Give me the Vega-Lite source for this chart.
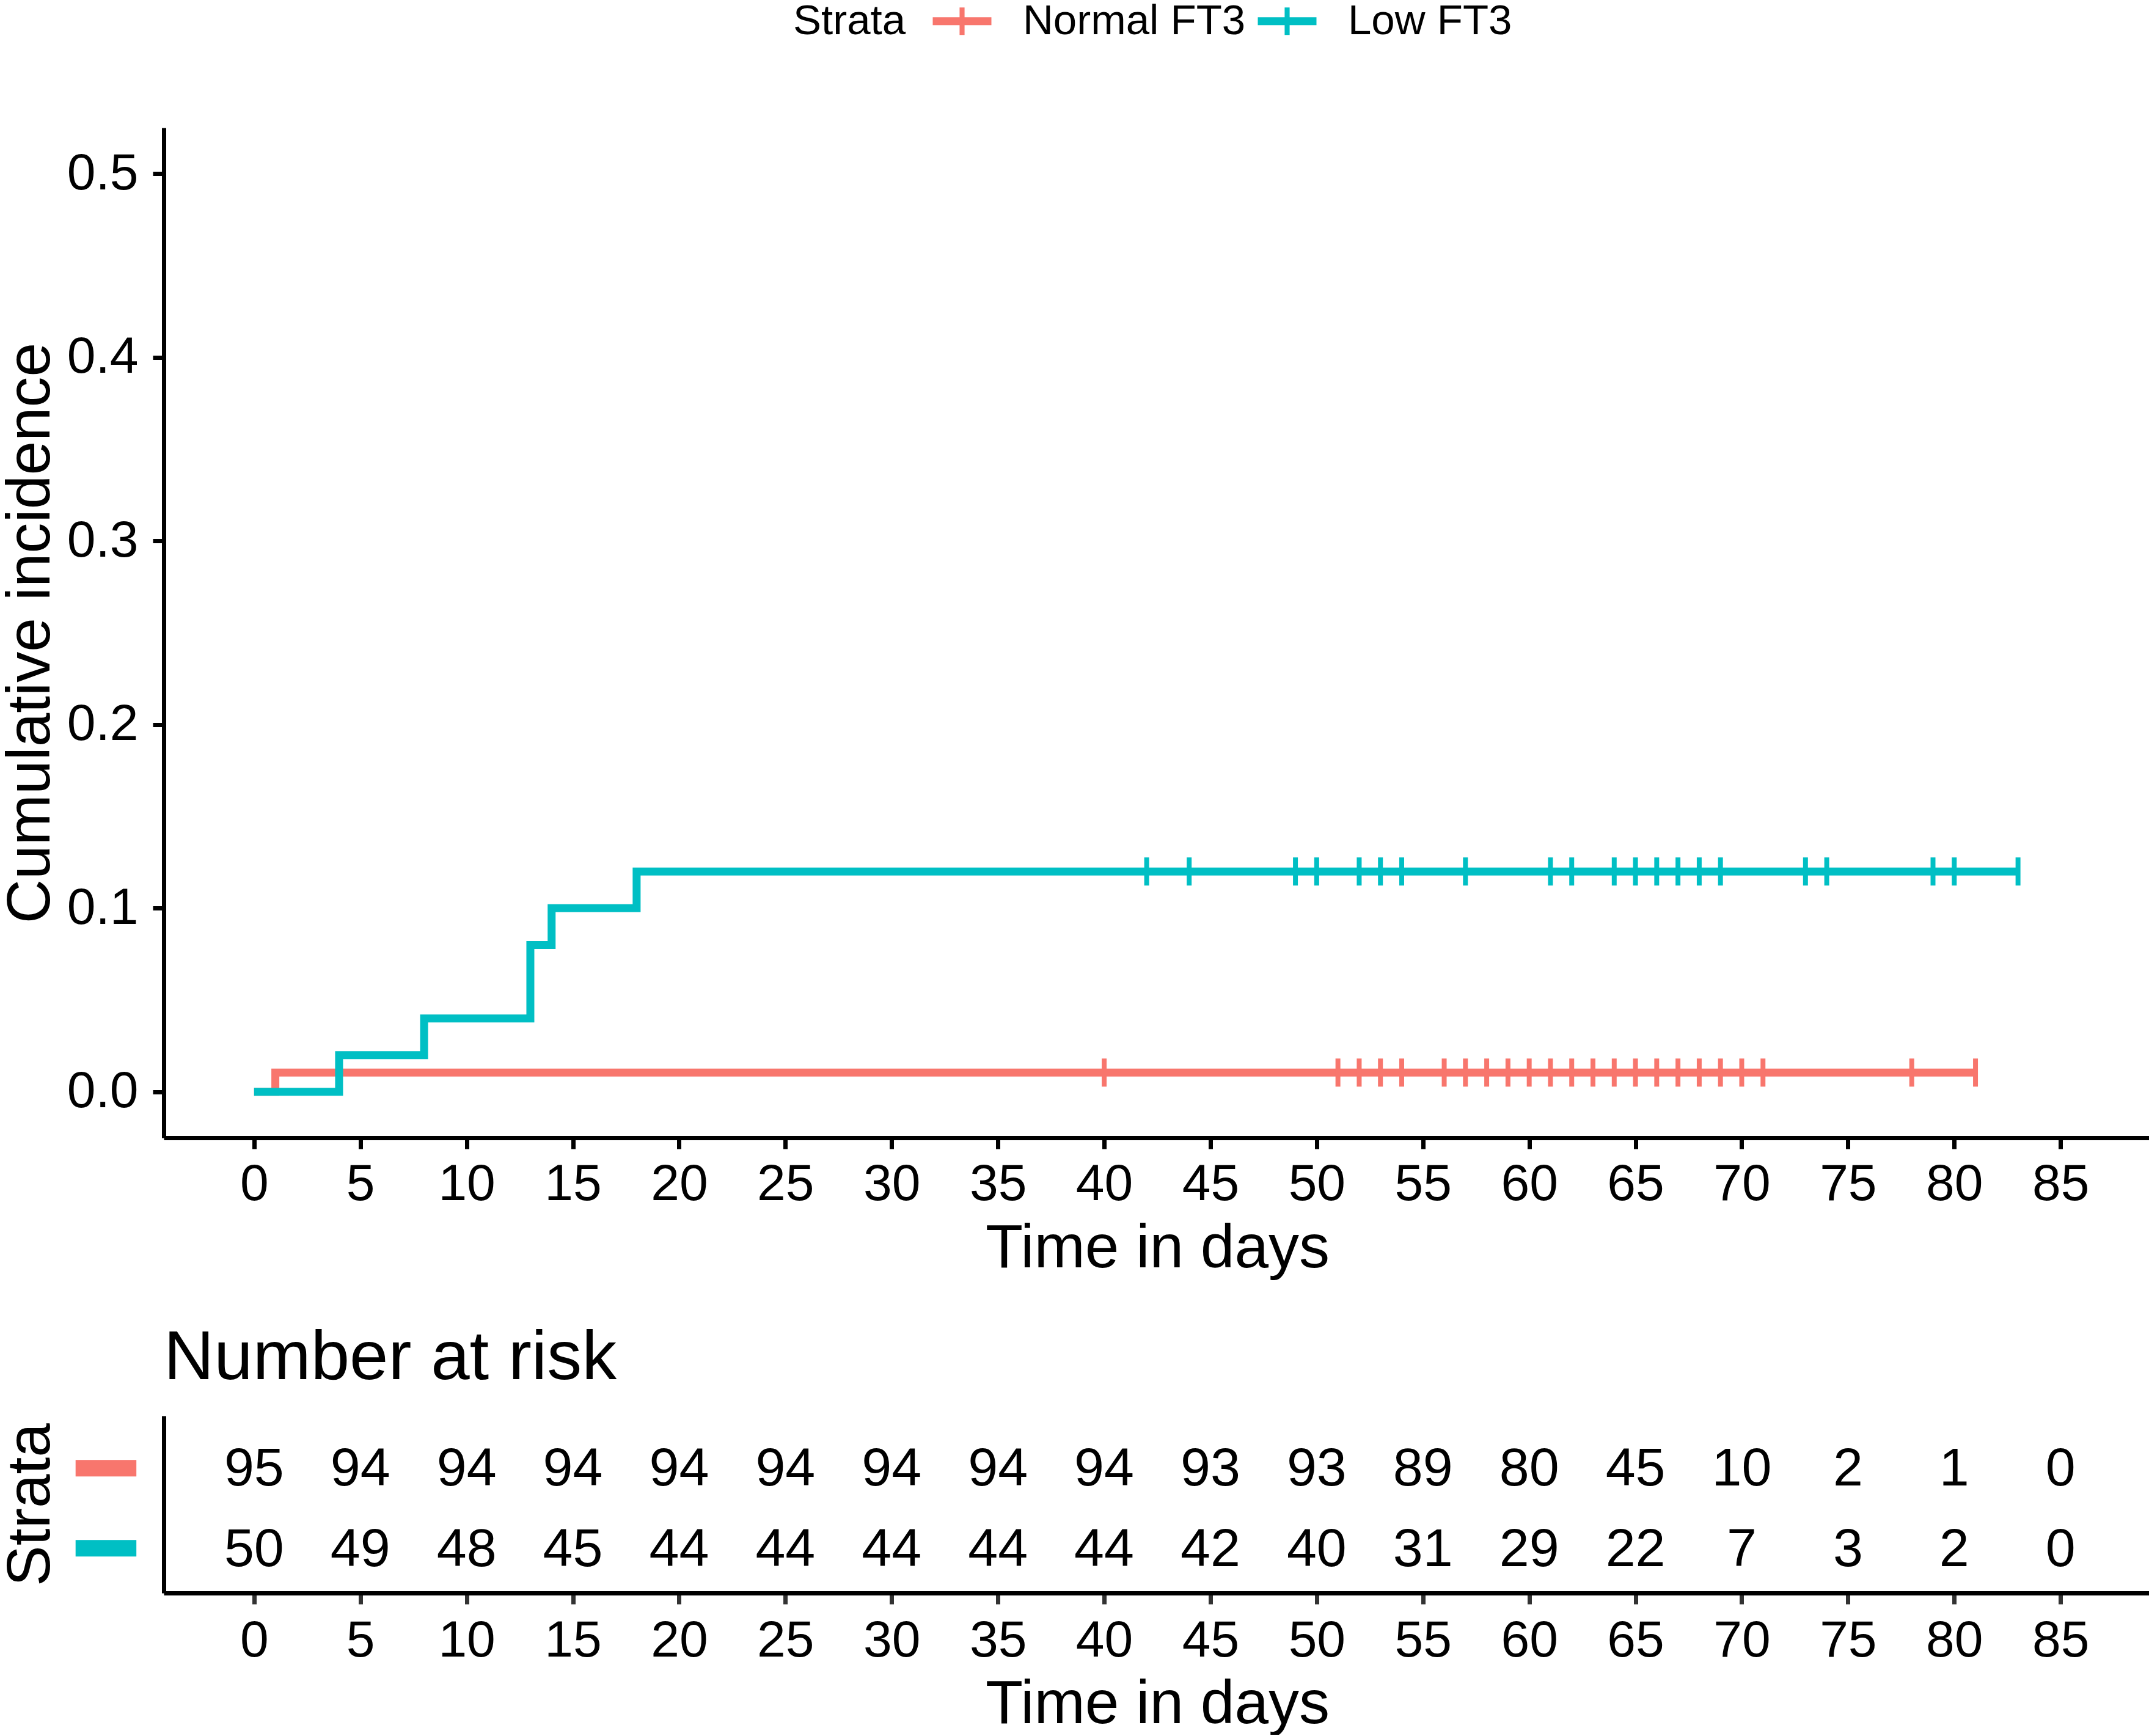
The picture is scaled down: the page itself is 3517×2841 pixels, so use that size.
{
  "$schema": "https://vega.github.io/schema/vega-lite/v6.json",
  "padding": {"left": 0, "top": 0, "right": 0, "bottom": 0},
  "spacing": 73,
  "config": {
    "font": "Liberation Sans",
    "view": {"stroke": null},
    "axis": {
      "grid": false,
      "domainColor": "black",
      "domainWidth": 7,
      "tickColor": "black",
      "tickWidth": 7,
      "tickSize": 18,
      "labelColor": "black",
      "labelFont": "Liberation Sans",
      "labelFontSize": 84,
      "titleFont": "Liberation Sans",
      "titleFontSize": 100,
      "titleFontWeight": "normal",
      "titleColor": "black"
    },
    "legend": {
      "titleFont": "Liberation Sans",
      "labelFont": "Liberation Sans",
      "titleFontSize": 69,
      "labelFontSize": 69,
      "titleFontWeight": "normal",
      "titleColor": "black",
      "labelColor": "black",
      "labelLimit": 0,
      "titleLimit": 0
    },
    "title": {"font": "Liberation Sans", "fontSize": 114, "fontWeight": "normal", "color": "black"}
  },
  "datasets": {
    "curve": [
      {"time": 0, "ci": 0, "strata": "Normal FT3"},
      {"time": 1, "ci": 0.0105, "strata": "Normal FT3"},
      {"time": 81, "ci": 0.0105, "strata": "Normal FT3"},
      {"time": 0, "ci": 0, "strata": "Low FT3"},
      {"time": 4, "ci": 0.02, "strata": "Low FT3"},
      {"time": 8, "ci": 0.04, "strata": "Low FT3"},
      {"time": 13, "ci": 0.08, "strata": "Low FT3"},
      {"time": 14, "ci": 0.1, "strata": "Low FT3"},
      {"time": 18, "ci": 0.12, "strata": "Low FT3"},
      {"time": 83, "ci": 0.12, "strata": "Low FT3"}
    ],
    "censor": [
      {"time": 40, "ci": 0.0105, "strata": "Normal FT3"},
      {"time": 51, "ci": 0.0105, "strata": "Normal FT3"},
      {"time": 52, "ci": 0.0105, "strata": "Normal FT3"},
      {"time": 53, "ci": 0.0105, "strata": "Normal FT3"},
      {"time": 54, "ci": 0.0105, "strata": "Normal FT3"},
      {"time": 56, "ci": 0.0105, "strata": "Normal FT3"},
      {"time": 57, "ci": 0.0105, "strata": "Normal FT3"},
      {"time": 58, "ci": 0.0105, "strata": "Normal FT3"},
      {"time": 59, "ci": 0.0105, "strata": "Normal FT3"},
      {"time": 60, "ci": 0.0105, "strata": "Normal FT3"},
      {"time": 61, "ci": 0.0105, "strata": "Normal FT3"},
      {"time": 62, "ci": 0.0105, "strata": "Normal FT3"},
      {"time": 63, "ci": 0.0105, "strata": "Normal FT3"},
      {"time": 64, "ci": 0.0105, "strata": "Normal FT3"},
      {"time": 65, "ci": 0.0105, "strata": "Normal FT3"},
      {"time": 66, "ci": 0.0105, "strata": "Normal FT3"},
      {"time": 67, "ci": 0.0105, "strata": "Normal FT3"},
      {"time": 68, "ci": 0.0105, "strata": "Normal FT3"},
      {"time": 69, "ci": 0.0105, "strata": "Normal FT3"},
      {"time": 70, "ci": 0.0105, "strata": "Normal FT3"},
      {"time": 71, "ci": 0.0105, "strata": "Normal FT3"},
      {"time": 78, "ci": 0.0105, "strata": "Normal FT3"},
      {"time": 81, "ci": 0.0105, "strata": "Normal FT3"},
      {"time": 42, "ci": 0.12, "strata": "Low FT3"},
      {"time": 44, "ci": 0.12, "strata": "Low FT3"},
      {"time": 49, "ci": 0.12, "strata": "Low FT3"},
      {"time": 50, "ci": 0.12, "strata": "Low FT3"},
      {"time": 52, "ci": 0.12, "strata": "Low FT3"},
      {"time": 53, "ci": 0.12, "strata": "Low FT3"},
      {"time": 54, "ci": 0.12, "strata": "Low FT3"},
      {"time": 57, "ci": 0.12, "strata": "Low FT3"},
      {"time": 61, "ci": 0.12, "strata": "Low FT3"},
      {"time": 62, "ci": 0.12, "strata": "Low FT3"},
      {"time": 64, "ci": 0.12, "strata": "Low FT3"},
      {"time": 65, "ci": 0.12, "strata": "Low FT3"},
      {"time": 66, "ci": 0.12, "strata": "Low FT3"},
      {"time": 67, "ci": 0.12, "strata": "Low FT3"},
      {"time": 68, "ci": 0.12, "strata": "Low FT3"},
      {"time": 69, "ci": 0.12, "strata": "Low FT3"},
      {"time": 73, "ci": 0.12, "strata": "Low FT3"},
      {"time": 74, "ci": 0.12, "strata": "Low FT3"},
      {"time": 79, "ci": 0.12, "strata": "Low FT3"},
      {"time": 80, "ci": 0.12, "strata": "Low FT3"},
      {"time": 83, "ci": 0.12, "strata": "Low FT3"}
    ],
    "risk": [
      {"time": 0, "n": 95, "strata": "Normal FT3"},
      {"time": 5, "n": 94, "strata": "Normal FT3"},
      {"time": 10, "n": 94, "strata": "Normal FT3"},
      {"time": 15, "n": 94, "strata": "Normal FT3"},
      {"time": 20, "n": 94, "strata": "Normal FT3"},
      {"time": 25, "n": 94, "strata": "Normal FT3"},
      {"time": 30, "n": 94, "strata": "Normal FT3"},
      {"time": 35, "n": 94, "strata": "Normal FT3"},
      {"time": 40, "n": 94, "strata": "Normal FT3"},
      {"time": 45, "n": 93, "strata": "Normal FT3"},
      {"time": 50, "n": 93, "strata": "Normal FT3"},
      {"time": 55, "n": 89, "strata": "Normal FT3"},
      {"time": 60, "n": 80, "strata": "Normal FT3"},
      {"time": 65, "n": 45, "strata": "Normal FT3"},
      {"time": 70, "n": 10, "strata": "Normal FT3"},
      {"time": 75, "n": 2, "strata": "Normal FT3"},
      {"time": 80, "n": 1, "strata": "Normal FT3"},
      {"time": 85, "n": 0, "strata": "Normal FT3"},
      {"time": 0, "n": 50, "strata": "Low FT3"},
      {"time": 5, "n": 49, "strata": "Low FT3"},
      {"time": 10, "n": 48, "strata": "Low FT3"},
      {"time": 15, "n": 45, "strata": "Low FT3"},
      {"time": 20, "n": 44, "strata": "Low FT3"},
      {"time": 25, "n": 44, "strata": "Low FT3"},
      {"time": 30, "n": 44, "strata": "Low FT3"},
      {"time": 35, "n": 44, "strata": "Low FT3"},
      {"time": 40, "n": 44, "strata": "Low FT3"},
      {"time": 45, "n": 42, "strata": "Low FT3"},
      {"time": 50, "n": 40, "strata": "Low FT3"},
      {"time": 55, "n": 31, "strata": "Low FT3"},
      {"time": 60, "n": 29, "strata": "Low FT3"},
      {"time": 65, "n": 22, "strata": "Low FT3"},
      {"time": 70, "n": 7, "strata": "Low FT3"},
      {"time": 75, "n": 3, "strata": "Low FT3"},
      {"time": 80, "n": 2, "strata": "Low FT3"},
      {"time": 85, "n": 0, "strata": "Low FT3"}
    ]
  },
  "vconcat": [
    {
      "width": 3252,
      "height": 1653,
      "encoding": {
        "x": {
          "field": "time",
          "type": "quantitative",
          "title": "Time in days",
          "scale": {"domain": [-4.25, 89.25], "nice": false, "zero": false},
          "axis": {"values": [0, 5, 10, 15, 20, 25, 30, 35, 40, 45, 50, 55, 60, 65, 70, 75, 80, 85], "labelPadding": 17, "titleBaseline": "alphabetic", "titleY": 211, "labelFlush": false}
        },
        "y": {
          "field": "ci",
          "type": "quantitative",
          "title": "Cumulative incidence",
          "scale": {"domain": [-0.025, 0.525], "nice": false, "zero": false},
          "axis": {"values": [0, 0.1, 0.2, 0.3, 0.4, 0.5], "format": ".1f", "labelPadding": 24, "titleBaseline": "alphabetic", "titleX": -188, "labelFlush": false}
        },
        "color": {
          "field": "strata",
          "type": "nominal",
          "title": "Strata",
          "scale": {"domain": ["Normal FT3", "Low FT3"], "range": ["#F8766D", "#00BFC4"]},
          "legend": {
            "orient": "none",
            "legendX": 1030,
            "legendY": -209,
            "direction": "horizontal",
            "titleOrient": "left",
            "titlePadding": 57,
            "labelOffset": 65,
            "columnPadding": 19,
            "symbolSize": 2304,
            "symbolType": "M-2,-0.27H-0.17V-0.94H0.17V-0.27H2V0.27H0.17V0.94H-0.17V0.27H-2Z",
            "encode": {
              "symbols": {"update": {"fill": {"scale": "color", "field": "value"}, "stroke": {"value": "transparent"}, "strokeWidth": {"value": 0}, "opacity": {"value": 1}}}
            }
          }
        }
      },
      "layer": [
        {
          "data": {"name": "curve"},
          "mark": {"type": "line", "interpolate": "step-after", "strokeWidth": 13},
          "encoding": {"order": {"field": "time", "type": "quantitative"}}
        },
        {
          "data": {"name": "censor"},
          "mark": {"type": "tick", "orient": "vertical", "size": 46, "thickness": 8, "opacity": 1}
        }
      ]
    },
    {
      "width": 3252,
      "height": 290,
      "data": {"name": "risk"},
      "title": {"text": "Number at risk", "anchor": "start", "frame": "group", "baseline": "alphabetic", "offset": -54},
      "mark": {"type": "text", "fontSize": 88, "baseline": "middle", "dy": 9, "color": "black"},
      "encoding": {
        "x": {
          "field": "time",
          "type": "quantitative",
          "title": "Time in days",
          "scale": {"domain": [-4.25, 89.25], "nice": false, "zero": false},
          "axis": {"values": [0, 5, 10, 15, 20, 25, 30, 35, 40, 45, 50, 55, 60, 65, 70, 75, 80, 85], "tickColor": "#333333", "labelPadding": 19, "titleBaseline": "alphabetic", "titleY": 212, "labelFlush": false}
        },
        "y": {
          "field": "strata",
          "type": "nominal",
          "title": "Strata",
          "scale": {"type": "point", "padding": 0.6, "domain": ["Normal FT3", "Low FT3"]},
          "axis": {
            "ticks": false,
            "labelExpr": "'━'",
            "labelFont": "DejaVu Sans",
            "labelFontSize": 160,
            "labelPadding": 47,
            "labelOffset": 13,
            "labelBaseline": "middle",
            "labelColor": {"condition": {"test": "datum.value === 'Normal FT3'", "value": "#F8766D"}, "value": "#00BFC4"},
            "titleBaseline": "alphabetic",
            "titleX": -188
          }
        },
        "text": {"field": "n", "type": "quantitative"}
      }
    }
  ]
}
